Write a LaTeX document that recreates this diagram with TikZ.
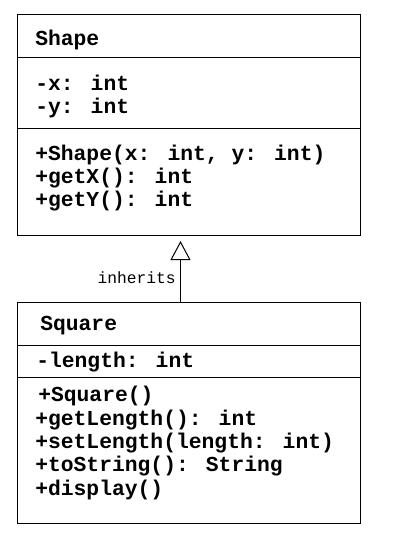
\documentclass[tikz,border=0pt]{standalone}
\usepackage{fontspec}
\newfontfamily\umlfont{Liberation Mono}
\usetikzlibrary{arrows.meta}
\begin{document}
\begin{tikzpicture}[x=0.75pt,y=-0.75pt,
  classbox/.style={draw=black,line width=0.75pt,rectangle,minimum width=343*0.75pt,minimum height=221*0.75pt,inner sep=0pt},
  sep/.style={line width=0.75pt},
  member/.style={anchor=base west,inner sep=0pt,font=\umlfont\bfseries\fontsize{16}{19}\selectfont},
  lbl/.style={anchor=base east,inner sep=0pt,font=\umlfont\fontsize{12.2}{14}\selectfont},
  inh/.style={line width=0.75pt,-{Triangle[open,length=14.25pt,width=15pt,line width=0.75pt]},shorten >=3.75pt}]
\useasboundingbox (0,0) rectangle (410,554);
\fill[white] (0,0) rectangle (410,554);
% Shape class
\node[classbox] (shape) at (189,125) {};
\draw[sep] (shape.west |- 0,57.5) -- (shape.east |- 0,57.5);
\draw[sep] (shape.west |- 0,128.5) -- (shape.east |- 0,128.5);
\node[member] (sname) at (35,45) {Shape};
\node[member] (sx) at (35,90.5) {-x: int};
\node[member] (sy) at (35,113.5) {-y: int};
\node[member] (sm1) at (35,160) {+Shape(x: int, y: int)};
\node[member] (sm2) at (35,183) {+getX(): int};
\node[member] (sm3) at (35,206.5) {+getY(): int};
% Square class
\node[classbox] (square) at (189,413) {};
\draw[sep] (square.west |- 0,345.5) -- (square.east |- 0,345.5);
\draw[sep] (square.west |- 0,377.5) -- (square.east |- 0,377.5);
\node[member] (qname) at (40,330) {Square};
\node[member] (ql) at (36,367.5) {-length: int};
\node[member] (qm1) at (38,401.5) {+Square()};
\node[member] (qm2) at (35,425) {+getLength(): int};
\node[member] (qm3) at (35,448.5) {+setLength(length: int)};
\node[member] (qm4) at (35,471.5) {+toString(): String};
\node[member] (qm5) at (35,495) {+display()};
% inheritance
\coordinate (ax) at (180.5,0);
\draw[inh] (square.north -| ax) -- (shape.south -| ax);
\node[lbl] (inhlbl) at (176,283.5) {inherits};
\end{tikzpicture}
\end{document}
